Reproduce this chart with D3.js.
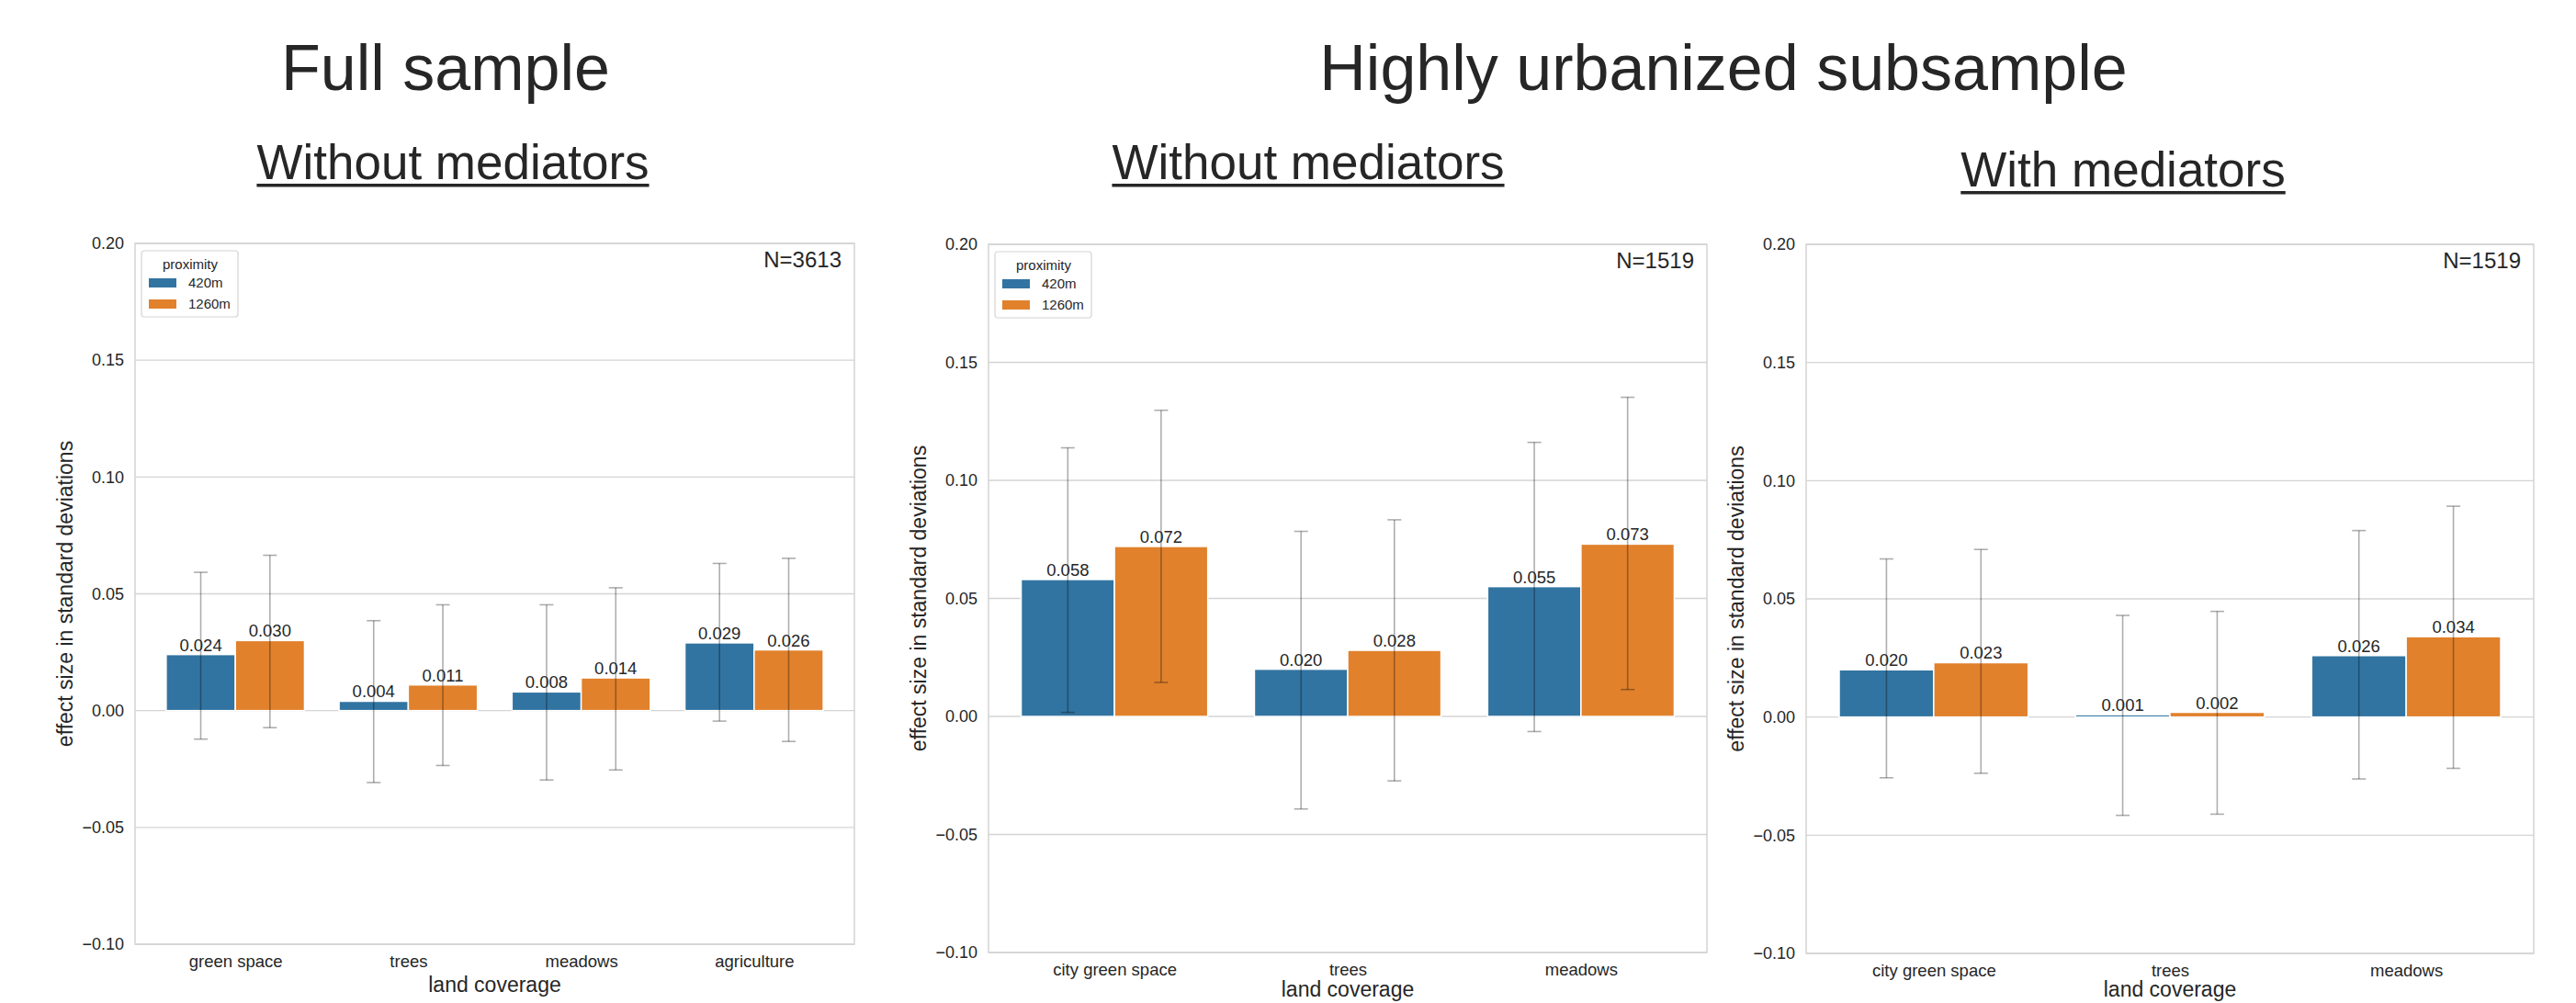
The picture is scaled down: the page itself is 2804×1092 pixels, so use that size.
<!DOCTYPE html>
<html>
  <head>
    <meta charset="utf-8">
    <script src="https://d3js.org/d3.v7.min.js"></script>
    <style>
      body { margin: 0; background: #fff; }
      text { font-family: "Liberation Sans", Arial, sans-serif; fill: #262626; }
    </style>
  </head>
  <body>
    <svg id="chart" width="2804" height="1092"></svg>
    <script>
      // proximity levels (hue) and their colours
      var hues = ["420m", "1260m"];
      var hueColors = ["#3274a1", "#e1812c"];

      // Full sample, without mediators
      var fullCats = ["green space", "trees", "meadows", "agriculture"];
      var fullEst420 = [0.024, 0.004, 0.008, 0.029];
      var fullEst1260 = [0.030, 0.011, 0.014, 0.026];
      var fullCI420 = [[-0.0122, 0.0592], [-0.0308, 0.0385], [-0.0297, 0.0453], [-0.0045, 0.0630]];
      var fullCI1260 = [[-0.0073, 0.0665], [-0.0235, 0.0453], [-0.0254, 0.0526], [-0.0132, 0.0652]];

      // Highly urbanized subsample, without mediators
      var urbCats = ["city green space", "trees", "meadows"];
      var urbEst420 = [0.058, 0.020, 0.055];
      var urbEst1260 = [0.072, 0.028, 0.073];
      var urbCI420 = [[0.0017, 0.1138], [-0.0392, 0.0784], [-0.0064, 0.1161]];
      var urbCI1260 = [[0.0144, 0.1297], [-0.0273, 0.0833], [0.0114, 0.1352]];

      // Highly urbanized subsample, with mediators
      var medEst420 = [0.020, 0.001, 0.026];
      var medEst1260 = [0.023, 0.002, 0.034];
      var medCI420 = [[-0.0257, 0.0669], [-0.0416, 0.0430], [-0.0262, 0.0789]];
      var medCI1260 = [[-0.0238, 0.0709], [-0.0411, 0.0447], [-0.0217, 0.0892]];

      var yTicks = [-0.10, -0.05, 0.00, 0.05, 0.10, 0.15, 0.20];

      var svg = d3.select("#chart");
      svg.append("rect").attr("width", 2804).attr("height", 1092).attr("fill", "#fff");

      // big headings
      svg.append("text").attr("x", 485).attr("y", 98).attr("text-anchor", "middle")
        .style("font-size", "70px").text("Full sample");
      svg.append("text").attr("x", 1876).attr("y", 98).attr("text-anchor", "middle")
        .style("font-size", "70px").text("Highly urbanized subsample");

      // underlined panel headings
      function subTitle(x, y, label) {
        var t = svg.append("text").attr("x", x).attr("y", y).attr("text-anchor", "middle")
          .style("font-size", "53px").text(label);
        var w = t.node().getComputedTextLength();
        svg.append("rect").attr("x", x - w / 2).attr("y", y + 5).attr("width", w).attr("height", 3.5)
          .attr("fill", "#262626");
      }
      subTitle(493, 195, "Without mediators");
      subTitle(1424, 195, "Without mediators");
      subTitle(2311, 203, "With mediators");

      function drawPanel(p) {
        var g = svg.append("g");
        var y = d3.scaleLinear().domain([-0.10, 0.20]).range([p.bottom, p.top]);
        var x = d3.scalePoint().domain(p.cats).range([p.left, p.right]).padding(p.pad);
        var barW = x.step() * 0.8 / hues.length;

        // horizontal grid
        g.selectAll(".grid").data(yTicks).enter().append("line")
          .attr("x1", p.left).attr("x2", p.right)
          .attr("y1", function(d) { return y(d); }).attr("y2", function(d) { return y(d); })
          .attr("stroke", "#d4d4d4").attr("stroke-width", 1.3);

        // y axis labels (no tick marks, seaborn whitegrid)
        var yAxis = d3.axisLeft(y).tickValues(yTicks).tickFormat(d3.format(".2f")).tickSize(0).tickPadding(12);
        var ya = g.append("g").attr("transform", "translate(" + p.left + ",0)").call(yAxis);
        ya.select(".domain").remove();
        ya.selectAll("text").style("font-size", "18px").attr("fill", "#262626");

        var xAxis = d3.axisBottom(x).tickSize(0).tickPadding(12);
        var xa = g.append("g").attr("transform", "translate(0," + p.bottom + ")").call(xAxis);
        xa.select(".domain").remove();
        xa.selectAll("text").style("font-size", "18.5px").attr("fill", "#262626");

        // bars
        var rows = [];
        p.cats.forEach(function(c, i) {
          hues.forEach(function(h, j) {
            rows.push({ cat: c, j: j, est: p.est[j][i], ci: p.ci[j][i] });
          });
        });

        g.selectAll(".bar").data(rows).enter().append("rect")
          .attr("x", function(d) { return x(d.cat) - barW + d.j * barW; })
          .attr("width", barW)
          .attr("y", function(d) { return Math.min(y(d.est), y(0)); })
          .attr("height", function(d) { return Math.abs(y(0) - y(d.est)); })
          .attr("fill", function(d) { return hueColors[d.j]; })
          .attr("stroke", "#fff").attr("stroke-width", 1.5);

        // error bars
        var eb = g.selectAll(".err").data(rows).enter().append("g")
          .attr("stroke", "#000").attr("stroke-opacity", 0.32).attr("stroke-width", 1.6);
        function cx(d) { return x(d.cat) - barW / 2 + d.j * barW; }
        eb.append("line")
          .attr("x1", cx).attr("x2", cx)
          .attr("y1", function(d) { return y(d.ci[0]); }).attr("y2", function(d) { return y(d.ci[1]); });
        [0, 1].forEach(function(k) {
          eb.append("line")
            .attr("x1", function(d) { return cx(d) - 7.5; }).attr("x2", function(d) { return cx(d) + 7.5; })
            .attr("y1", function(d) { return y(d.ci[k]); }).attr("y2", function(d) { return y(d.ci[k]); });
        });

        // value labels
        g.selectAll(".val").data(rows).enter().append("text")
          .attr("x", cx)
          .attr("y", function(d) { return y(d.est) - 4; })
          .attr("text-anchor", "middle")
          .style("font-size", "18.5px")
          .text(function(d) { return d3.format(".3f")(d.est); });

        // frame
        g.append("rect").attr("x", p.left).attr("y", p.top)
          .attr("width", p.right - p.left).attr("height", p.bottom - p.top)
          .attr("fill", "none").attr("stroke", "#d4d4d4").attr("stroke-width", 1.5);

        // sample size
        g.append("text").attr("x", p.right - 14).attr("y", p.top + 26).attr("text-anchor", "end")
          .style("font-size", "24px").text(p.n);

        // axis titles
        g.append("text").attr("x", (p.left + p.right) / 2).attr("y", Math.min(p.bottom + 52, 1085))
          .attr("text-anchor", "middle").style("font-size", "23px").text("land coverage");
        g.append("text")
          .attr("transform", "translate(" + (p.left - 76) + "," + ((p.top + p.bottom) / 2) + ") rotate(-90)")
          .attr("text-anchor", "middle").attr("dy", "0.35em").style("font-size", "23px")
          .text("effect size in standard deviations");

        // legend
        if (p.legend) {
          var lg = g.append("g").attr("transform", "translate(" + (p.left + 7) + "," + (p.top + 8) + ")");
          lg.append("rect").attr("width", 105).attr("height", 72).attr("rx", 3)
            .attr("fill", "#fff").attr("stroke", "#d4d4d4").attr("stroke-width", 1.2);
          lg.append("text").attr("x", 53).attr("y", 20).attr("text-anchor", "middle")
            .style("font-size", "15px").text("proximity");
          hues.forEach(function(h, j) {
            lg.append("rect").attr("x", 8).attr("y", 30 + j * 23).attr("width", 30).attr("height", 10)
              .attr("fill", hueColors[j]);
            lg.append("text").attr("x", 51).attr("y", 40 + j * 23)
              .style("font-size", "15px").text(h);
          });
        }
      }

      drawPanel({ left: 147, right: 930, top: 265, bottom: 1028, pad: 0.58, cats: fullCats,
        est: [fullEst420, fullEst1260], ci: [fullCI420, fullCI1260], n: "N=3613", legend: true });
      drawPanel({ left: 1076, right: 1858, top: 266, bottom: 1037, pad: 0.54, cats: urbCats,
        est: [urbEst420, urbEst1260], ci: [urbCI420, urbCI1260], n: "N=1519", legend: true });
      drawPanel({ left: 1966, right: 2758, top: 266, bottom: 1038, pad: 0.54, cats: urbCats,
        est: [medEst420, medEst1260], ci: [medCI420, medCI1260], n: "N=1519", legend: false });
    </script>
  </body>
</html>
